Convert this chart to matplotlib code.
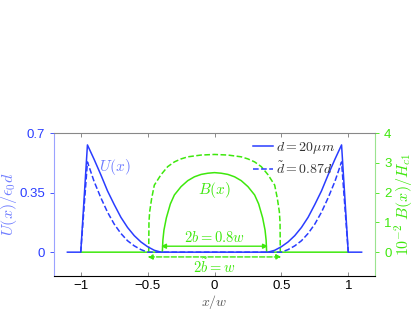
import matplotlib
matplotlib.use("Agg")
import matplotlib.pyplot as plt

plt.rcParams['mathtext.fontset'] = 'cm'
plt.rcParams['font.family'] = ['Liberation Sans', 'DejaVu Sans']

# surface current U(x)/(eps0 d), d = 20 um (solid) and d~ = 0.87 d (dashed)
u_x = [-1.1, -1.0, -0.95, -0.9, -0.85, -0.8, -0.75, -0.7, -0.65, -0.6, -0.55, -0.5, -0.45, -0.4,
       0.4, 0.45, 0.5, 0.55, 0.6, 0.65, 0.7, 0.75, 0.8, 0.85, 0.9, 0.95, 1.0, 1.1]
u_solid = [0, 0, 0.63, 0.545, 0.455, 0.36, 0.28, 0.205, 0.145, 0.097, 0.06, 0.032, 0.011, 0,
           0, 0.011, 0.032, 0.06, 0.097, 0.145, 0.205, 0.28, 0.36, 0.455, 0.545, 0.63, 0, 0]
ud_x = [-1.0, -0.95, -0.9, -0.85, -0.8, -0.75, -0.7, -0.65, -0.6, -0.55, -0.5,
        0.5, 0.55, 0.6, 0.65, 0.7, 0.75, 0.8, 0.85, 0.9, 0.95, 1.0]
u_dashed = [0, 0.53, 0.415, 0.32, 0.235, 0.165, 0.11, 0.067, 0.037, 0.015, 0,
            0, 0.015, 0.037, 0.067, 0.11, 0.165, 0.235, 0.32, 0.415, 0.53, 0]

# field B(x) in units of 1e-2 Hc1, strip half widths b = 0.4w and b~ = 0.5w
b_half = 0.4
bt_half = 0.5
b_x = [-1.0, -0.39, -0.386, -0.378, -0.36, -0.33, -0.3, -0.25, -0.2, -0.15, -0.1, -0.05, 0,
       0.05, 0.1, 0.15, 0.2, 0.25, 0.3, 0.33, 0.36, 0.378, 0.386, 0.39, 1.0]
b_solid = [0, 0, 0.4, 0.74, 1.15, 1.62, 1.92, 2.2, 2.4, 2.53, 2.61, 2.65, 2.67,
           2.65, 2.61, 2.53, 2.4, 2.2, 1.92, 1.62, 1.15, 0.74, 0.4, 0, 0]
bd_x = [-0.492, -0.49, -0.485, -0.47, -0.45, -0.4, -0.35, -0.3, -0.25, -0.2, -0.1, 0,
        0.1, 0.2, 0.25, 0.3, 0.35, 0.4, 0.45, 0.47, 0.485, 0.49, 0.492]
b_dashed = [0, 1.0, 1.35, 1.8, 2.25, 2.6, 2.87, 3.03, 3.13, 3.2, 3.26, 3.28,
            3.26, 3.2, 3.13, 3.03, 2.87, 2.6, 2.25, 1.8, 1.35, 1.0, 0]

blue = '#2a3dff'
lblue = '#6f7dff'
green = '#3ee80c'
lgreen = '#9be38f'

fig = plt.figure(figsize=(4.15, 3.12), dpi=100)
ax = fig.add_axes([54 / 415, 36 / 312, 321 / 415, 143 / 312])
ax2 = ax.twinx()
ax.set_zorder(ax2.get_zorder() + 1)
ax.patch.set_visible(False)

# green: B(x)
ax2.plot(b_x, b_solid, color=green, lw=1.1)
ax2.plot(bd_x, b_dashed, color=green, lw=1.1, ls='--')
ax2.set_ylim(-0.8, 4)
ax2.set_yticks([0, 1, 2, 3, 4])
ax2.tick_params(axis='y', colors=green, labelsize=9.5, direction='out', length=3, width=0.6)
for s in ['left', 'top', 'bottom']:
    ax2.spines[s].set_visible(False)
ax2.spines['right'].set_color(lgreen)
ax2.set_ylabel(r'$10^{-2}\ B(x)/H_{c1}$', color=green, fontsize=11.5, rotation=90, labelpad=1)

# blue: U(x)
ax.plot(ud_x, u_dashed, color=blue, lw=1.1, ls='--', label=r'$\tilde{d}=0.87d$')
ax.plot(u_x, u_solid, color=blue, lw=1.1, label=r'$d=20\mu m$')
ax.set_xlim(-1.2, 1.2)
ax.set_ylim(-0.14, 0.7)
ax.set_xticks([-1, -0.5, 0, 0.5, 1])
ax.set_xticklabels(['\u22121', '\u22120.5', '0', '0.5', '1'])
ax.set_yticks([0, 0.35, 0.7])
ax.set_yticklabels(['0', '0.35', '0.7'])
ax.tick_params(axis='x', direction='in', top=True, bottom=True, length=3, width=0.6,
               color='#777777', labelsize=9.5, pad=3)
ax.tick_params(axis='y', colors=blue, labelsize=9.5, direction='out', length=3, width=0.6)
ax.spines['right'].set_visible(False)
ax.spines['left'].set_color('#9aa2ff')
ax.spines['top'].set_color('#888888')
ax.spines['bottom'].set_color('black')
ax.set_ylabel(r'$U(x)/\epsilon_0 d$', color=lblue, fontsize=11.5, labelpad=0)
ax.set_xlabel(r'$x/w$', color='#555555', fontsize=10, va='top')
ax.xaxis.set_label_coords(0.5, -0.12)

h, l = ax.get_legend_handles_labels()
leg = ax.legend(h[::-1], l[::-1], loc='upper right', bbox_to_anchor=(0.915, 1.04), frameon=False,
                fontsize=10, handlelength=1.5, handletextpad=0.2, labelspacing=0.35)
for t in leg.get_texts():
    t.set_color('#333333')

ax.text(-0.745, 0.5, r'$U(x)$', color=lblue, fontsize=11, ha='center', va='center')
ax2.text(0, 2.08, r'$B(x)$', color=green, fontsize=11, ha='center', va='center')

# width arrows
ax.annotate('', xy=(b_half, 0.035), xytext=(-b_half, 0.035),
            arrowprops=dict(arrowstyle='<|-|>', color=green, lw=1.0, mutation_scale=7,
                            shrinkA=0, shrinkB=0))
ax.annotate('', xy=(bt_half, -0.028), xytext=(-bt_half, -0.028),
            arrowprops=dict(arrowstyle='<|-|>', color=green, lw=1.0, ls='--', mutation_scale=7,
                            shrinkA=0, shrinkB=0))
ax.text(0, 0.084, r'$2b=0.8w$', color=green, fontsize=10.5, ha='center', va='center')
ax.text(0, -0.088, r'$2\tilde{b}=w$', color=green, fontsize=10.5, ha='center', va='center')

fig.savefig('out.png', dpi=100)
